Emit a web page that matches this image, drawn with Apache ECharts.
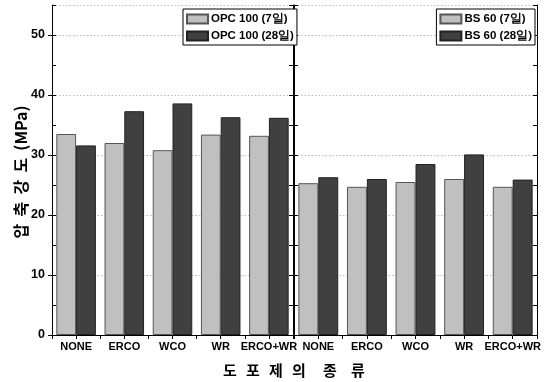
<!DOCTYPE html>
<html><head><meta charset="utf-8">
<script src="https://cdn.jsdelivr.net/npm/echarts@6/dist/echarts.min.js"></script>
<style>html,body{margin:0;padding:0;background:#fff}#c{width:546px;height:382px}</style>
</head><body><div id="c"></div>
<script>
const categories = ['NONE', 'ERCO', 'WCO', 'WR', 'ERCO+WR'];
const seriesNames = ['OPC 100 (7일)', 'OPC 100 (28일)', 'BS 60 (7일)', 'BS 60 (28일)'];
const opc7 = [33.5, 32.0, 30.8, 33.4, 33.2];
const opc28 = [31.6, 37.3, 38.6, 36.3, 36.2];
const bs7 = [25.3, 24.7, 25.5, 26.0, 24.7];
const bs28 = [26.3, 26.0, 28.5, 30.1, 25.9];
const yTicks = [0, 10, 20, 30, 40, 50];
const xTitleChars = ['도', '포', '제', '의', '종', '류'];
const yTitle = '압  축  강  도  (MPa)';

const FN = "'Liberation Sans Narrow','Arial Narrow','Liberation Sans',sans-serif";
const KR = "'Noto Sans CJK KR','Noto Sans',sans-serif";
const chart = echarts.init(document.getElementById('c'));
const topCats = Array.from({length: 10}, (_, i) => String(i));

function yAxes(g, withLabels) {
  const base = {gridIndex: g, type: 'value', min: 0, max: 55};
  return [
    Object.assign({}, base, {
      position: 'left', interval: 10,
      axisLine: {show: true, lineStyle: {color: '#000', width: 1}},
      axisTick: {show: withLabels, inside: false, length: 4, lineStyle: {color: '#000'}},
      axisLabel: {show: withLabels, showMaxLabel: false, color: '#000', fontFamily: FN, fontWeight: 'bold', fontSize: 12.5, margin: 7,
        formatter: v => yTicks.indexOf(v) >= 0 ? String(v) : ''},
      splitLine: {show: true, lineStyle: {color: '#bbb', type: [1.5, 2], width: 1}}
    }),
    Object.assign({}, base, {
      position: 'left', interval: 5,
      axisLine: {show: false},
      axisTick: {show: true, inside: true, length: 4, lineStyle: {color: '#000'}},
      axisLabel: {show: false}, splitLine: {show: false}
    }),
    Object.assign({}, base, {
      position: 'right', interval: 5,
      axisLine: {show: true, lineStyle: {color: '#000', width: 1}},
      axisTick: {show: true, inside: true, length: 4, lineStyle: {color: '#000'}},
      axisLabel: {show: false}, splitLine: {show: false}
    })
  ];
}

function xAxes(g) {
  return [
    {gridIndex: g, type: 'category', data: categories, position: 'bottom',
      axisLine: {show: true, lineStyle: {color: '#000', width: 1}},
      axisTick: {show: false},
      axisLabel: {color: '#000', fontFamily: FN, fontWeight: 'bold', fontSize: 11, margin: 6, interval: 0}},
    {gridIndex: g, type: 'category', data: topCats, position: 'top',
      axisLine: {show: true, lineStyle: {color: '#000', width: 1}},
      axisTick: {show: true, inside: true, length: 4, lineStyle: {color: '#000'}},
      axisLabel: {show: false}}
  ];
}

const barStyle = (c, b) => ({color: c, borderColor: b, borderWidth: 1});
function bar(name, data, xi, yi, light) {
  return {name, type: 'bar', data, xAxisIndex: xi, yAxisIndex: yi,
    barGap: '0%', barCategoryGap: '18%',
    itemStyle: light ? barStyle('#c0c0c0', '#555') : barStyle('#404040', '#222')};
}

const legendCommon = {
  orient: 'vertical', itemWidth: 21, itemHeight: 9, itemGap: 5, icon: 'rect',
  backgroundColor: '#fff', borderColor: '#000', borderWidth: 1, borderRadius: 0,
  padding: [4, 3, 3, 3],
  textStyle: {color: '#000', fontFamily: FN, fontWeight: 'bold', fontSize: 11.5, padding: [0, 0, 0, -2]}
};

const xTitleX = [230, 253, 276, 299, 330, 358];
const graphics = xTitleChars.map((ch, i) => ({
  type: 'text', x: xTitleX[i], y: 370,
  style: {text: ch, font: 'bold 15px ' + KR, fill: '#000', align: 'center', verticalAlign: 'middle'}
}));
graphics.push({type: 'text', x: 21, y: 172, rotation: Math.PI / 2,
  style: {text: yTitle, font: 'bold 16px ' + KR, fill: '#000', align: 'center', verticalAlign: 'middle'}});

chart.setOption({
  animation: false,
  grid: [
    {left: 52, right: 253, top: 5, bottom: 47},
    {left: 294, right: 9, top: 5, bottom: 47}
  ],
  xAxis: [...xAxes(0), ...xAxes(1)],
  yAxis: [...yAxes(0, true), ...yAxes(1, false)],
  legend: [
    Object.assign({}, legendCommon, {data: [seriesNames[0], seriesNames[1]], left: 183, top: 9}),
    Object.assign({}, legendCommon, {data: [seriesNames[2], seriesNames[3]], right: 11, top: 9})
  ],
  graphic: graphics,
  series: [
    bar(seriesNames[0], opc7, 0, 0, true),
    bar(seriesNames[1], opc28, 0, 0, false),
    bar(seriesNames[2], bs7, 2, 3, true),
    bar(seriesNames[3], bs28, 2, 3, false)
  ]
});
</script></body></html>
